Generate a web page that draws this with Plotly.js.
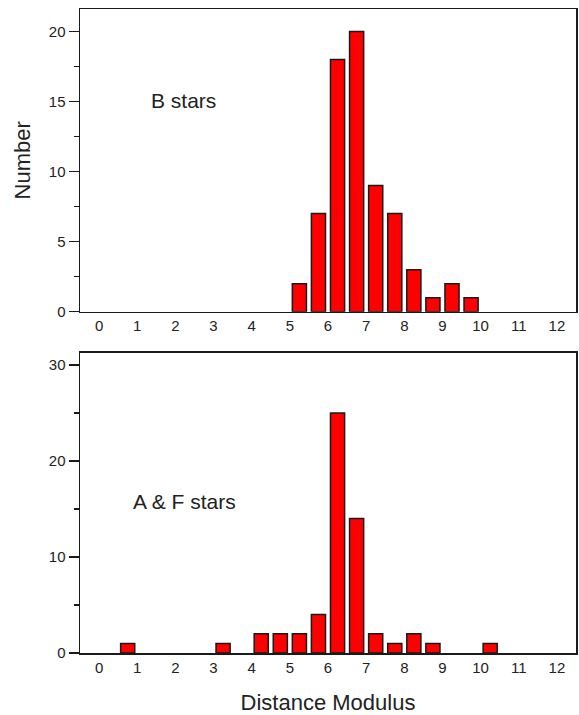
<!DOCTYPE html>
<html>
<head>
<meta charset="utf-8">
<script src="https://cdn.plot.ly/plotly-3.0.1.min.js"></script>
<style>
html,body{margin:0;padding:0;background:#fff;}
#chart{width:579px;height:715px;}
</style>
</head>
<body>
<div id="chart"></div>
<script>
// ---- data ----
const xLabelVals = [0,1,2,3,4,5,6,7,8,9,10,11,12];
const xLabelText = ['0','1','2','3','4','5','6','7','8','9','10','11','12'];
const binEdges = [-0.5,0.5,1.5,2.5,3.5,4.5,5.5,6.5,7.5,8.5,9.5,10.5,11.5,12.5];

const bStarCenters = [5.25,5.75,6.25,6.75,7.25,7.75,8.25,8.75,9.25,9.75];
const bStarCounts  = [2,7,18,20,9,7,3,1,2,1];

const afStarCenters = [0.75,3.25,4.25,4.75,5.25,5.75,6.25,6.75,7.25,7.75,8.25,8.75,10.25];
const afStarCounts  = [1,1,2,2,2,4,25,14,2,1,2,1,1];

const topYTicks = [0,5,10,15,20];
const bottomYTicks = [0,10,20,30];

// ---- style ----
const FONT = 'Liberation Sans, Arial, sans-serif';
const LINE = '#1a1a1a';
const TICKFONT = {family: FONT, size: 15, color: '#222'};
const barStyle = {color: '#ff0000', line: {color: '#1a1a1a', width: 1.5}};

const traces = [
  {type: 'bar', x: bStarCenters, y: bStarCounts, width: 0.37, marker: barStyle,
   xaxis: 'x', yaxis: 'y', showlegend: false, hoverinfo: 'x+y'},
  {type: 'bar', x: afStarCenters, y: afStarCounts, width: 0.37, marker: barStyle,
   xaxis: 'x2', yaxis: 'y2', showlegend: false, hoverinfo: 'x+y'}
];

function xMain(anchor, title) {
  const ax = {
    anchor: anchor, range: [-0.5, 12.5], tickmode: 'array',
    tickvals: xLabelVals, ticktext: xLabelText, ticks: '',
    tickfont: TICKFONT, showgrid: false, zeroline: false,
    showline: true, linecolor: LINE, linewidth: 1.5, mirror: true,
    fixedrange: true
  };
  if (title) {
    ax.title = {text: title, font: {family: FONT, size: 22, color: '#222'}, standoff: 20};
  }
  return ax;
}
function xTicks(overlay, anchor, side) {
  return {
    overlaying: overlay, anchor: anchor, range: [-0.5, 12.5], tickmode: 'array',
    tickvals: binEdges, ticks: side, ticklen: side === 'inside' ? 5 : 3,
    tickwidth: 1.5, tickcolor: LINE,
    showticklabels: false, showline: false, showgrid: false, zeroline: false,
    fixedrange: true
  };
}
function yAxis(domain, range, vals, minorStep, title) {
  const ax = {
    domain: domain, range: range, tickmode: 'array', tickvals: vals,
    ticks: 'outside', ticklen: 10, tickwidth: 1.5, tickcolor: LINE,
    minor: {tickmode: 'linear', tick0: 0, dtick: minorStep, ticks: 'outside',
            ticklen: 5, tickwidth: 1.5, tickcolor: LINE, showgrid: false},
    tickfont: TICKFONT, showgrid: false, zeroline: false,
    showline: true, linecolor: LINE, linewidth: 1.5, mirror: true,
    fixedrange: true
  };
  if (title) {
    ax.title = {text: title, font: {family: FONT, size: 22, color: '#222'}, standoff: 12};
  }
  return ax;
}

const layout = {
  width: 579, height: 715,
  margin: {l: 80, r: 3, t: 9, b: 62},
  paper_bgcolor: '#fff', plot_bgcolor: '#fff',
  font: {family: FONT, color: '#222'},
  bargap: 0,
  xaxis: xMain('y', null),
  xaxis2: xMain('y2', 'Distance Modulus'),
  xaxis3: xTicks('x', 'y', 'inside'),
  xaxis4: xTicks('x2', 'y2', 'inside'),
  xaxis5: xTicks('x', 'y', 'outside'),
  xaxis6: xTicks('x2', 'y2', 'outside'),
  yaxis: yAxis([0.53, 1], [0, 21.6], topYTicks, 2.5, 'Number'),
  yaxis2: yAxis([0, 0.466], [0, 31.25], bottomYTicks, 5, null),
  annotations: [
    {text: 'B stars', xref: 'x', yref: 'y', x: 1.31, y: 15.1, xanchor: 'left', yanchor: 'middle',
     showarrow: false, font: {family: FONT, size: 21, color: '#222'}},
    {text: 'A &amp; F stars', xref: 'x2', yref: 'y2', x: 0.84, y: 15.8, xanchor: 'left', yanchor: 'middle',
     showarrow: false, font: {family: FONT, size: 21, color: '#222'}}
  ]
};

Plotly.newPlot('chart', traces, layout, {displayModeBar: false, staticPlot: true});
</script>
</body>
</html>
